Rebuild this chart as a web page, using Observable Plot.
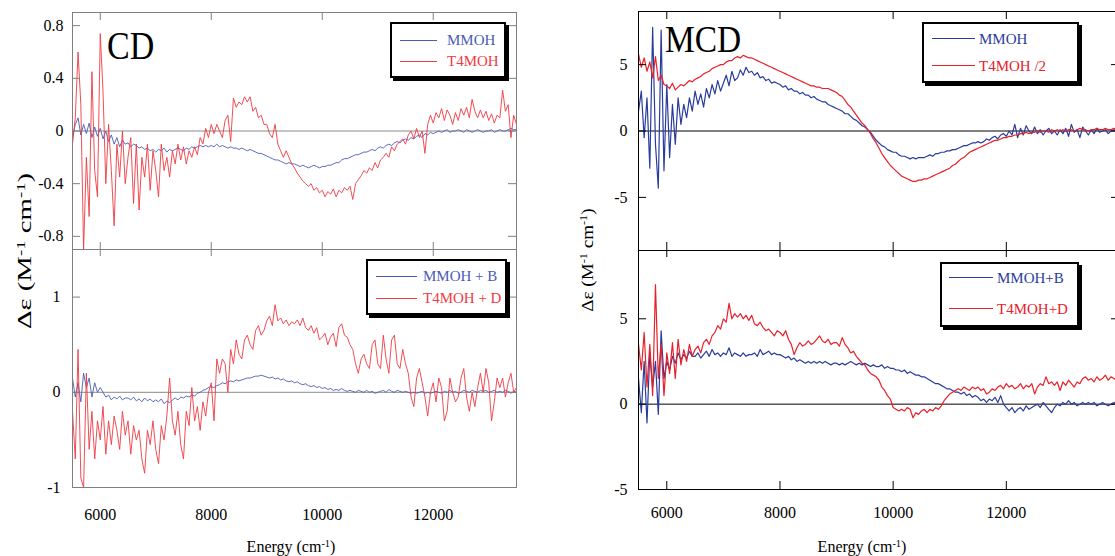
<!DOCTYPE html>
<html><head><meta charset="utf-8">
<script src="https://cdn.jsdelivr.net/npm/d3@7"></script>
<script src="https://cdn.jsdelivr.net/npm/@observablehq/plot@0.6"></script>
<style>
body{margin:0;background:#fff;}
#wrap{position:relative;width:1115px;height:556px;overflow:hidden;background:#fff;font-family:'Liberation Serif',serif;color:#000;}
#wrap *{font-family:'Liberation Serif',serif;}
#wrap svg text{font-family:'Liberation Serif',serif !important;}
.leg{position:absolute;border:2px solid #000;box-shadow:3px 3px 0 #000;background:#fff;box-sizing:border-box;}
.abs{position:absolute;white-space:nowrap;}
sup{font-size:65%;vertical-align:0.5em;line-height:0;}
</style></head>
<body><div id="wrap"></div>
<script>
// ---------- data ----------
const xCD = d3.range(5500, 13501, 50);   // CD sampling grid (cm-1)
const xMCD = d3.range(5500, 14001, 50);  // MCD sampling grid (cm-1)

const cdMMOH = [
-0.05,0.05,0.1,-0.03,0.05,-0.02,0.06,-0.05,0.03,-0.04,
0.02,-0.06,0.0,-0.08,-0.03,-0.1,-0.05,-0.12,-0.07,-0.1,
-0.09,-0.12,-0.1,-0.11,-0.13,-0.12,-0.14,-0.13,-0.15,-0.14,
-0.16,-0.14,-0.15,-0.13,-0.16,-0.14,-0.15,-0.14,-0.13,-0.14,
-0.15,-0.13,-0.14,-0.12,-0.13,-0.12,-0.11,-0.12,-0.11,-0.12,
-0.11,-0.12,-0.1,-0.12,-0.11,-0.12,-0.13,-0.12,-0.13,-0.13,
-0.14,-0.13,-0.14,-0.15,-0.14,-0.15,-0.16,-0.17,-0.17,-0.18,
-0.19,-0.2,-0.21,-0.22,-0.22,-0.23,-0.24,-0.25,-0.24,-0.25,
-0.25,-0.26,-0.27,-0.26,-0.27,-0.28,-0.27,-0.26,-0.27,-0.28,
-0.27,-0.27,-0.26,-0.26,-0.25,-0.24,-0.24,-0.22,-0.21,-0.21,
-0.2,-0.19,-0.18,-0.18,-0.17,-0.16,-0.16,-0.15,-0.14,-0.15,
-0.13,-0.12,-0.13,-0.11,-0.1,-0.11,-0.09,-0.08,-0.09,-0.07,
-0.06,-0.07,-0.05,-0.06,-0.04,-0.03,-0.05,-0.02,-0.03,-0.01,
-0.02,-0.01,0.0,-0.01,0.0,0.01,-0.01,0.0,0.0,0.01,
0.0,-0.01,0.01,0.0,-0.01,0.0,0.01,0.0,-0.01,0.0,
0.0,0.01,-0.01,0.0,0.01,0.0,0.0,0.01,0.02,0.01,
0.01];
const cdT4MOH = [
-0.1,0.1,0.6,0.2,-0.9,-0.2,-0.65,0.45,-0.3,-0.5,
0.74,0.3,-0.4,0.05,-0.3,-0.72,-0.1,-0.35,0.0,-0.4,
-0.2,-0.05,-0.55,-0.1,-0.6,-0.2,-0.35,-0.1,-0.45,-0.15,
-0.3,-0.5,-0.1,-0.3,-0.2,-0.35,-0.15,-0.25,-0.1,-0.22,
-0.12,-0.25,-0.15,-0.2,-0.12,-0.18,-0.05,-0.1,0.02,-0.05,
0.05,-0.02,0.05,0.0,-0.05,0.08,0.12,-0.08,0.25,0.18,
0.22,0.2,0.26,0.22,0.26,0.15,0.18,0.1,0.12,0.05,
0.05,-0.02,-0.05,0.05,-0.1,-0.15,-0.2,-0.15,-0.2,-0.25,
-0.28,-0.32,-0.35,-0.38,-0.4,-0.42,-0.4,-0.45,-0.43,-0.47,
-0.45,-0.5,-0.46,-0.48,-0.44,-0.5,-0.45,-0.47,-0.43,-0.45,
-0.42,-0.52,-0.4,-0.37,-0.34,-0.3,-0.32,-0.28,-0.3,-0.24,
-0.28,-0.22,-0.2,-0.17,-0.2,-0.12,-0.15,-0.1,-0.08,-0.06,
-0.1,-0.03,0.0,-0.06,0.02,-0.05,0.0,-0.17,0.05,0.12,
0.06,0.14,0.1,0.17,0.08,0.16,0.12,0.05,0.14,0.08,
0.17,0.12,0.18,0.1,0.24,0.15,0.1,0.16,0.1,0.15,
0.08,0.13,0.06,0.12,0.1,0.31,0.15,0.2,-0.05,0.12,
0.05];
const cdMMOHB = [
0.15,-0.05,0.1,-0.1,0.2,0.05,0.15,-0.05,0.1,0.0,
0.05,0.0,-0.05,-0.03,-0.08,-0.05,-0.07,-0.04,-0.08,-0.06,
-0.06,-0.08,-0.05,-0.09,-0.07,-0.1,-0.06,-0.09,-0.07,-0.1,
-0.08,-0.1,-0.07,-0.12,-0.09,-0.11,-0.08,-0.06,-0.08,-0.05,
-0.06,-0.04,-0.05,-0.03,-0.04,-0.01,0.0,0.02,0.03,0.05,
0.06,0.05,0.07,0.08,0.1,0.09,0.11,0.12,0.11,0.13,
0.12,0.13,0.14,0.15,0.15,0.16,0.17,0.17,0.18,0.17,
0.16,0.15,0.16,0.14,0.15,0.13,0.14,0.12,0.11,0.12,
0.1,0.11,0.09,0.08,0.09,0.07,0.06,0.07,0.05,0.06,
0.04,0.05,0.03,0.04,0.02,0.03,0.02,0.04,0.02,0.01,
0.02,0.01,0.0,0.02,0.01,0.0,0.02,0.0,0.01,-0.01,
0.0,0.01,0.02,0.0,0.03,0.01,0.0,0.02,0.01,0.0,
0.01,0.0,-0.01,0.0,-0.01,0.0,0.01,-0.01,0.0,-0.01,
0.0,0.01,0.0,-0.01,0.01,0.0,0.02,0.0,0.01,-0.01,
0.0,0.02,0.01,0.0,0.02,0.01,0.0,0.02,0.01,0.02,
0.0,0.01,0.02,0.0,0.01,0.0,0.02,0.01,-0.01,0.01,
0.0];
const cdT4MOHD = [
-0.2,-0.7,0.45,-0.9,-1.0,0.2,-0.6,-0.2,-0.7,-0.3,
-0.5,-0.15,-0.65,-0.3,-0.55,-0.25,-0.4,-0.6,-0.2,-0.45,
-0.3,-0.65,-0.35,-0.5,-0.4,-0.7,-0.85,-0.4,-0.55,-0.3,
-0.6,-0.75,-0.35,-0.5,-0.25,0.15,-0.3,-0.45,-0.2,-0.55,
-0.7,-0.2,-0.35,0.05,-0.3,-0.15,-0.4,-0.1,-0.25,0.0,
0.1,-0.3,0.35,0.2,0.35,0.3,0.0,0.45,0.3,0.55,
0.4,0.35,0.55,0.6,0.5,0.45,0.65,0.7,0.6,0.65,
0.75,0.8,0.7,0.92,0.75,0.78,0.72,0.76,0.7,0.74,
0.72,0.76,0.7,0.78,0.68,0.65,0.7,0.62,0.68,0.55,
0.58,0.62,0.5,0.58,0.62,0.48,0.68,0.72,0.6,0.58,
0.5,0.45,0.3,0.2,0.35,0.4,0.3,0.25,0.5,0.55,
0.3,0.25,0.6,0.35,0.2,0.55,0.6,0.3,0.25,0.45,
0.3,0.2,-0.05,-0.15,0.15,0.25,0.1,-0.05,-0.25,0.0,
0.1,-0.1,0.15,0.05,-0.3,-0.2,0.15,0.0,-0.1,-0.05,
0.15,0.25,-0.05,-0.2,0.0,-0.15,0.05,0.2,0.0,0.25,
0.1,-0.3,-0.1,0.15,0.05,0.15,-0.05,0.1,0.2,0.0,
0.05];
const mcdMMOH = [
1.5,3.0,-0.5,2.5,-2.8,7.8,-1.0,-4.3,7.6,-3.0,
3.5,-2.0,2.0,-1.0,2.5,0.5,2.0,1.0,2.5,1.5,
3.0,2.0,2.8,1.8,3.2,2.5,3.5,2.8,3.8,3.0,
3.6,4.2,3.4,4.5,3.8,4.0,4.6,4.2,4.8,4.4,
4.5,4.2,4.4,4.0,4.1,3.8,3.9,3.6,3.7,3.6,
3.5,3.3,3.4,3.1,3.2,3.0,3.0,2.8,2.9,2.7,
2.7,2.5,2.6,2.4,2.3,2.2,2.2,2.0,1.9,1.8,
1.7,1.6,1.5,1.3,1.3,1.1,0.9,0.8,0.6,0.4,
0.3,0.1,-0.1,-0.4,-0.7,-0.9,-1.1,-1.2,-1.4,-1.5,
-1.6,-1.6,-1.8,-1.9,-1.9,-2.0,-2.1,-2.0,-2.1,-2.0,
-2.0,-2.0,-1.9,-1.8,-1.9,-1.7,-1.7,-1.6,-1.6,-1.5,
-1.5,-1.4,-1.4,-1.3,-1.2,-1.1,-1.1,-1.0,-0.9,-0.9,
-0.8,-0.9,-0.8,-0.6,-0.7,-0.5,-0.4,-0.6,-0.3,-0.2,
-0.4,0.0,-0.3,0.5,-0.5,0.2,-0.3,0.4,0.0,-0.2,
0.3,-0.2,0.1,-0.3,0.0,0.2,-0.2,0.0,-0.3,0.1,
-0.2,0.2,-0.4,0.5,-0.1,0.1,-0.5,0.3,0.0,-0.3,
0.1,-0.2,0.2,-0.1,0.0,0.1,-0.2,0.0,0.1,0.0,
0.0];
const mcdT4MOH = [
5.8,4.8,5.5,4.5,5.2,4.0,5.6,3.8,4.2,3.5,
3.4,3.2,3.6,3.1,3.3,3.5,3.4,3.6,3.8,3.7,
3.9,4.0,4.1,4.3,4.4,4.5,4.7,4.8,4.9,5.0,
5.0,5.2,5.3,5.3,5.5,5.6,5.5,5.7,5.6,5.5,
5.5,5.4,5.3,5.2,5.1,5.0,4.9,4.8,4.7,4.6,
4.5,4.4,4.3,4.2,4.1,4.0,3.9,3.8,3.7,3.6,
3.5,3.4,3.4,3.3,3.3,3.2,3.2,3.2,3.1,3.0,
2.9,2.7,2.6,2.3,2.0,1.8,1.5,1.2,0.9,0.6,
0.4,0.1,-0.2,-0.6,-0.9,-1.3,-1.7,-2.0,-2.3,-2.6,
-2.8,-3.0,-3.2,-3.4,-3.5,-3.6,-3.7,-3.8,-3.8,-3.7,
-3.7,-3.6,-3.6,-3.5,-3.4,-3.3,-3.2,-3.1,-3.0,-2.9,
-2.8,-2.6,-2.5,-2.3,-2.1,-2.0,-1.8,-1.6,-1.5,-1.4,
-1.3,-1.2,-1.1,-1.0,-0.9,-0.8,-0.7,-0.7,-0.6,-0.5,
-0.5,-0.4,-0.4,-0.3,-0.3,-0.2,-0.2,-0.1,-0.2,-0.1,
-0.1,0.0,-0.1,0.0,0.0,-0.1,0.1,0.0,0.1,0.0,
0.1,0.0,0.1,0.1,0.0,0.1,0.2,0.1,0.1,0.0,
0.1,0.1,0.2,0.1,0.1,0.2,0.1,0.1,0.2,0.1,
0.1];
const mcdMMOHB = [
1.5,-0.5,2.5,-1.1,3.0,1.0,2.5,-0.6,4.3,1.5,
2.5,2.0,2.8,2.4,3.0,2.6,2.9,2.7,3.1,2.8,
2.8,3.0,2.7,2.9,3.1,2.8,3.2,2.9,3.0,2.8,
3.0,2.9,3.3,2.8,3.0,2.9,2.8,3.0,2.8,2.9,
2.9,3.0,2.8,3.2,2.9,3.0,3.1,2.9,3.0,2.9,
2.9,2.8,2.7,2.8,2.6,2.7,2.5,2.6,2.5,2.4,
2.5,2.4,2.5,2.4,2.5,2.4,2.5,2.4,2.3,2.4,
2.4,2.3,2.4,2.3,2.4,2.5,2.4,2.3,2.4,2.3,
2.4,2.3,2.2,2.3,2.2,2.2,2.3,2.1,2.2,2.1,
2.1,2.0,2.0,1.9,2.0,1.8,1.9,1.8,1.7,1.7,
1.6,1.6,1.5,1.4,1.3,1.2,1.2,1.1,1.0,0.9,
0.9,0.8,0.7,0.7,0.6,0.7,0.5,0.6,0.4,0.5,
0.4,0.2,0.3,0.1,0.3,0.2,0.4,0.1,0.5,0.0,
-0.2,-0.4,-0.2,-0.5,-0.3,-0.2,-0.4,-0.1,-0.3,-0.2,
-0.1,0.0,-0.2,0.1,-0.1,-0.3,-0.5,-0.2,0.0,-0.1,
0.1,0.0,0.2,0.0,0.1,-0.1,0.0,0.1,0.0,0.1,
0.0,0.1,-0.1,0.0,0.1,0.0,-0.1,0.0,0.1,0.0,
0.0];
const mcdT4MOHD = [
3.5,2.0,4.2,1.0,3.5,0.5,7.0,1.5,3.5,0.5,
3.0,1.8,3.6,1.5,3.8,2.3,3.2,2.5,3.5,2.8,
3.2,3.4,3.0,3.6,3.8,3.5,4.0,4.2,4.6,4.4,
5.0,4.8,5.9,5.0,5.3,5.1,5.3,5.0,5.2,4.9,
5.2,4.7,4.6,4.8,4.5,4.3,4.4,4.2,4.0,4.3,
4.2,4.0,4.3,3.8,3.5,2.9,3.3,3.6,3.4,3.5,
3.7,3.5,3.6,3.8,4.0,3.7,3.6,3.8,3.5,3.6,
3.6,3.4,3.9,3.5,3.3,3.0,3.1,2.8,2.6,2.4,
2.3,2.0,1.8,1.7,1.6,1.4,1.0,0.8,0.5,0.3,
-0.2,-0.3,-0.4,-0.3,-0.4,-0.2,-0.3,-0.8,-0.5,-0.6,
-0.4,-0.3,-0.5,-0.3,-0.4,-0.2,-0.3,-0.1,0.2,0.4,
0.6,0.7,0.8,0.9,0.8,1.0,0.9,0.8,1.0,0.9,
1.0,0.8,0.9,0.6,0.7,0.9,0.8,1.0,1.1,0.9,
1.2,1.0,1.1,0.9,1.0,1.2,0.9,1.1,1.0,1.2,
0.6,1.0,1.2,1.1,1.6,1.2,1.3,1.1,1.3,0.8,
1.3,1.1,1.4,1.2,1.0,1.3,1.2,1.5,1.6,1.4,
1.5,1.3,1.6,1.4,1.5,1.7,1.4,1.6,1.5,1.4,
1.5];

const xTicks = [6000, 8000, 10000, 12000];
const cdTopTicks = [0.8, 0.4, 0, -0.4, -0.8];
const cdBotTicks = [1, 0, -1];
const mcdTicks = [5, 0, -5];
const legCDTop = ["MMOH", "T4MOH"];
const legCDBot = ["MMOH + B", "T4MOH + D"];
const legMCDTop = ["MMOH", "T4MOH /2"];
const legMCDBot = ["MMOH+B", "T4MOH+D"];

// ---------- drawing ----------
const wrap = document.getElementById("wrap");
const FONT = "'Liberation Serif', serif";
const C = {lb: "#4a5bb4", lr: "#ee3a42", rb: "#2a3c9c", rr: "#e8202a"};

function rows(xs, ys) { return ys.map((y, i) => ({x: xs[i], y})); }

function panel(o) {
  const mL = 60, mR = 12, mT = 10, mB = 45;
  const w = o.w, h = o.h;
  const marks = [
    Plot.ruleY([0], {stroke: o.zero, strokeWidth: 1}),
    ...o.series.map(s => Plot.line(rows(s.xs, s.ys), {x: "x", y: "y", stroke: s.color, strokeWidth: s.width, clip: true})),
    Plot.frame({stroke: o.frame, strokeWidth: 1})
  ];
  const t = o.ticks;
  if (t.top) marks.push(Plot.ruleX(xTicks, {x: d => d, stroke: o.frame, insetBottom: h - t.top}));
  if (t.bottom) marks.push(Plot.ruleX(xTicks, {x: d => d, stroke: o.frame, insetTop: h - t.bottom}));
  if (t.left) marks.push(Plot.ruleY(o.yTicks, {y: d => d, stroke: o.frame, insetRight: w - t.left}));
  if (t.right) marks.push(Plot.ruleY(o.yTicks, {y: d => d, stroke: o.frame, insetLeft: w - t.right}));
  const svg = Plot.plot({
    width: w + mL + mR, height: h + mT + mB,
    marginLeft: mL, marginRight: mR, marginTop: mT, marginBottom: mB,
    x: o.xLabels
      ? {domain: o.xDomain, ticks: xTicks, tickSize: 0, tickPadding: o.xPad, tickFormat: d => String(d), label: null}
      : {domain: o.xDomain, axis: null},
    y: {domain: o.yDomain, ticks: o.yTicks, tickSize: 0, tickPadding: o.yPad, tickFormat: d => String(d), label: null},
    style: {fontFamily: FONT, fontSize: "16px", color: "#000", background: "transparent", overflow: "visible"},
    marks
  });
  svg.setAttribute("font-family", FONT);
  svg.style.position = "absolute";
  svg.style.left = (o.left - mL) + "px";
  svg.style.top = (o.top - mT) + "px";
  svg.style.maxWidth = "none";
  wrap.appendChild(svg);
}

// CD top
panel({left: 72, top: 12, w: 444, h: 237, xDomain: [5500, 13500], yDomain: [-0.9, 0.9], yTicks: cdTopTicks,
  frame: "#808080", zero: "#8a8a8a", yPad: 9, ticks: {top: 8, bottom: 7, left: 8, right: 8},
  series: [{xs: xCD, ys: cdMMOH, color: C.lb, width: 0.9}, {xs: xCD, ys: cdT4MOH, color: C.lr, width: 0.9}]});
// CD bottom
panel({left: 72, top: 249, w: 444, h: 238, xDomain: [5500, 13500], yDomain: [-1, 1.5], yTicks: cdBotTicks,
  frame: "#808080", zero: "#8a8a8a", yPad: 12, xLabels: true, xPad: 21, ticks: {top: 7, left: 8, right: 8},
  series: [{xs: xCD, ys: cdMMOHB, color: C.lb, width: 0.9}, {xs: xCD, ys: cdT4MOHD, color: C.lr, width: 0.9}]});
// MCD top
panel({left: 638, top: 11, w: 481, h: 239, xDomain: [5500, 14000], yDomain: [-9, 9], yTicks: mcdTicks,
  frame: "#000", zero: "#000", yPad: 11, ticks: {top: 8, bottom: 8, left: 8, right: 8},
  series: [{xs: xMCD, ys: mcdMMOH, color: C.rb, width: 1.2}, {xs: xMCD, ys: mcdT4MOH, color: C.rr, width: 1.2}]});
// MCD bottom
panel({left: 638, top: 250, w: 481, h: 239, xDomain: [5500, 14000], yDomain: [-5, 9], yTicks: mcdTicks,
  frame: "#000", zero: "#000", yPad: 11, xLabels: true, xPad: 17, ticks: {top: 7, bottom: 8, left: 8, right: 8},
  series: [{xs: xMCD, ys: mcdMMOHB, color: C.rb, width: 1.2}, {xs: xMCD, ys: mcdT4MOHD, color: C.rr, width: 1.2}]});

// legends
function legend(o) {
  const box = document.createElement("div");
  box.className = "leg";
  Object.assign(box.style, {left: o.x + "px", top: o.y + "px", width: o.w + "px", height: o.h + "px"});
  wrap.appendChild(box);
  o.labels.forEach((lab, i) => {
    const ln = document.createElement("div");
    ln.className = "abs";
    Object.assign(ln.style, {left: o.lx + "px", top: (o.rows[i] - o.lw / 2) + "px", width: o.ll + "px", height: "0px",
      borderTop: o.lw + "px solid " + o.colors[i]});
    wrap.appendChild(ln);
    const tx = document.createElement("div");
    tx.className = "abs";
    tx.textContent = lab;
    Object.assign(tx.style, {left: o.tx + "px", top: (o.rows[i] - 10) + "px", height: "20px", lineHeight: "20px",
      fontSize: "15px", color: o.colors[i]});
    wrap.appendChild(tx);
  });
}
legend({x: 390, y: 22, w: 116, h: 56, lx: 400, ll: 37, tx: 447, rows: [40, 61], lw: 1, labels: legCDTop, colors: [C.lb, C.lr]});
legend({x: 366, y: 259, w: 141, h: 56, lx: 376, ll: 41, tx: 423, rows: [276, 298], lw: 1, labels: legCDBot, colors: [C.lb, C.lr]});
legend({x: 922, y: 22, w: 157, h: 61, lx: 932, ll: 43, tx: 979, rows: [39, 66], lw: 1.5, labels: legMCDTop, colors: [C.rb, C.rr]});
legend({x: 940, y: 262, w: 139, h: 65, lx: 949, ll: 44, tx: 997, rows: [278, 309], lw: 1.5, labels: legMCDBot, colors: [C.rb, C.rr]});

// texts
function text(html, css) {
  const d = document.createElement("div");
  d.className = "abs";
  d.innerHTML = html;
  Object.assign(d.style, css);
  wrap.appendChild(d);
  return d;
}
text("CD", {left: "107px", top: "24px", fontSize: "40px", lineHeight: "44px", transform: "scaleX(0.85)", transformOrigin: "left top"});
text("MCD", {left: "665px", top: "17px", fontSize: "38px", lineHeight: "44px", transform: "scaleX(0.88)", transformOrigin: "left top"});
text("Energy (cm<sup>-1</sup>)", {left: "291px", top: "538px", fontSize: "16px", lineHeight: "18px", transform: "translateX(-50%)"});
text("Energy (cm<sup>-1</sup>)", {left: "862px", top: "538px", fontSize: "16px", lineHeight: "18px", transform: "translateX(-50%)"});
text("&Delta;&epsilon; (M<sup>-1</sup> cm<sup>-1</sup>)", {left: "25px", top: "251px", fontSize: "18px", lineHeight: "18px", transform: "translate(-50%,-50%) rotate(-90deg) scaleX(1.6)"});
text("&Delta;&epsilon; (M<sup>-1</sup> cm<sup>-1</sup>)", {left: "588px", top: "260px", fontSize: "17px", lineHeight: "18px", transform: "translate(-50%,-50%) rotate(-90deg) scaleX(1.12)"});
</script></body></html>
